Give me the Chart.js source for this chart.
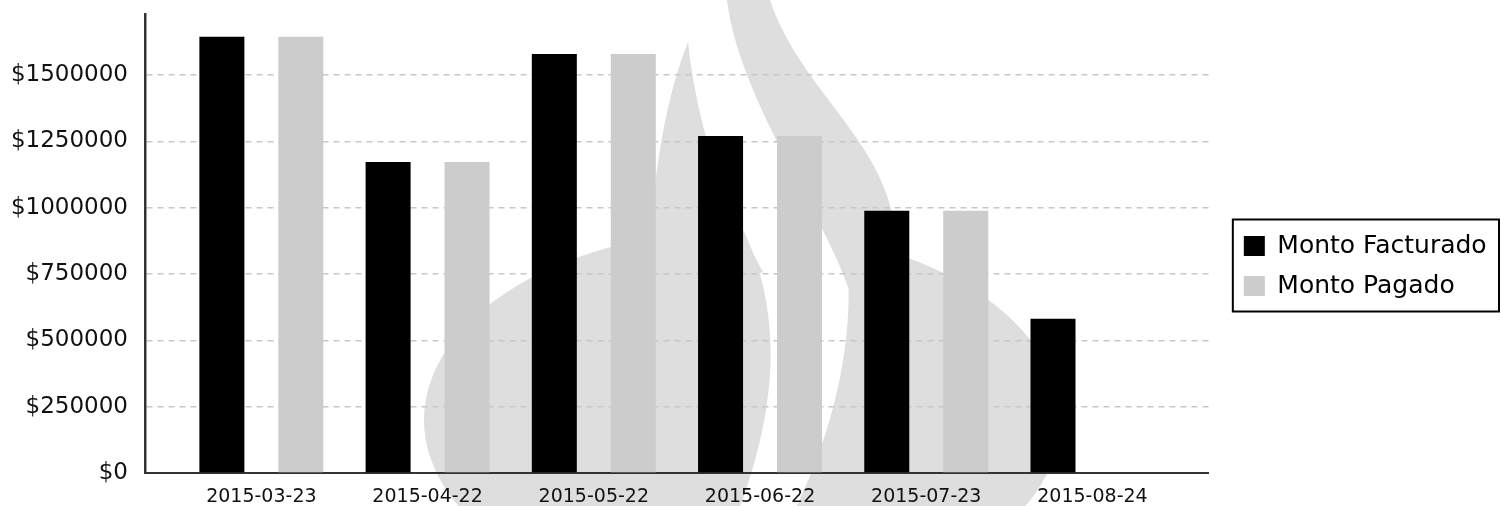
<!DOCTYPE html>
<html>
<head>
<meta charset="utf-8">
<script src="https://cdn.jsdelivr.net/npm/chart.js@4.4.0/dist/chart.umd.min.js"></script>
<style>
  html, body { margin: 0; padding: 0; background: #fff; }
  #wrap { width: 1501px; height: 506px; }
</style>
</head>
<body>
<div id="wrap"><canvas id="chart" width="1501" height="506"></canvas></div>
<script>
// Data
const fechas = ['2015-03-23', '2015-04-22', '2015-05-22', '2015-06-22', '2015-07-23', '2015-08-24'];
const montoFacturado = [1644000, 1172000, 1579000, 1270000, 988000, 581000];
const montoPagado = [1644000, 1172000, 1579000, 1270000, 988000, 0];
const yTicks = [0, 250000, 500000, 750000, 1000000, 1250000, 1500000];
const yMax = 1730000;

const FONT = 'DejaVu Sans';

function toPoints(values) {
    return values.map((v, i) => ({ x: i, y: v }));
}

// Light flame watermark behind the plot (drawn relative to the chart area)
const watermark = {
    id: 'watermark',
    beforeDraw(chart) {
        const ctx = chart.ctx;
        const a = chart.chartArea;
        ctx.save();
        ctx.translate(a.left, a.top);
        ctx.fillStyle = '#dedede';

        // round base
        ctx.beginPath();
        ctx.ellipse(597, 406, 318, 190, 0, 0, Math.PI * 2);
        ctx.fill();

        // white s-shaped gap through the base
        ctx.fillStyle = '#ffffff';
        ctx.beginPath();
        ctx.moveTo(588, 196);
        ctx.bezierCurveTo(630, 270, 645, 366, 590, 506);
        ctx.lineTo(645, 506);
        ctx.bezierCurveTo(705, 386, 712, 286, 697, 196);
        ctx.closePath();
        ctx.fill();

        ctx.fillStyle = '#dedede';
        // right tongue
        ctx.beginPath();
        ctx.moveTo(582, -14);
        ctx.lineTo(625, -14);
        ctx.bezierCurveTo(655, 76, 740, 126, 750, 216);
        ctx.lineTo(790, 306);
        ctx.lineTo(712, 306);
        ctx.bezierCurveTo(700, 226, 595, 96, 582, -14);
        ctx.closePath();
        ctx.fill();

        // left tongue
        ctx.beginPath();
        ctx.moveTo(543, 28);
        ctx.bezierCurveTo(555, 136, 588, 200, 618, 258);
        ctx.lineTo(495, 306);
        ctx.lineTo(505, 226);
        ctx.bezierCurveTo(510, 156, 520, 86, 543, 28);
        ctx.closePath();
        ctx.fill();
        ctx.restore();
    }
};

// Wider legend with a black frame round it
const legendBox = {
    id: 'legendBox',
    beforeLayout(chart) {
        const lg = chart.legend;
        if (lg && !lg._widened) {
            const fit = lg.fit;
            lg.fit = function () {
                fit.call(this);
                this.width += 22;
            };
            lg._widened = true;
        }
    },
    afterLayout(chart) {
        chart.legend.top += 6;
        chart.legend.bottom += 6;
    },
    afterDraw(chart) {
        const boxes = chart.legend.legendHitBoxes;
        if (!boxes || !boxes.length) return;
        const left = Math.min(...boxes.map(b => b.left)) - 11;
        const top = Math.min(...boxes.map(b => b.top)) - 14;
        const bottom = Math.max(...boxes.map(b => b.top + b.height)) + 13;
        const right = chart.width - 2;
        const ctx = chart.ctx;
        ctx.save();
        ctx.strokeStyle = '#000';
        ctx.lineWidth = 2;
        ctx.strokeRect(left, top, right - left, bottom - top);
        ctx.restore();
    }
};

const ctx = document.getElementById('chart').getContext('2d');

new Chart(ctx, {
    type: 'bar',
    data: {
        datasets: [{
            label: 'Monto Facturado',
            data: toPoints(montoFacturado),
            backgroundColor: '#000000',
            borderWidth: 0
        }, {
            label: 'Monto Pagado',
            data: toPoints(montoPagado),
            backgroundColor: '#cccccc',
            borderWidth: 0
        }]
    },
    options: {
        responsive: false,
        animation: false,
        devicePixelRatio: 1,
        categoryPercentage: 0.95,
        barPercentage: 0.57,
        layout: {
            padding: { top: 14, left: 0, right: 0, bottom: 0 }
        },
        plugins: {
            tooltip: { enabled: false },
            legend: {
                position: 'right',
                labels: {
                    color: '#000',
                    font: { family: FONT, size: 25 },
                    boxWidth: 21,
                    boxHeight: 20,
                    padding: 15
                }
            }
        },
        scales: {
            x: {
                type: 'linear',
                offset: false,
                min: -0.7,
                max: 5.7,
                afterBuildTicks: axis => {
                    axis.ticks = fechas.map((_, i) => ({ value: i }));
                },
                afterFit: axis => {
                    axis.height = 33;
                    axis.paddingLeft = 0;
                    axis.paddingRight = 0;
                },
                grid: { display: false },
                border: { display: true, color: '#333', width: 2 },
                ticks: {
                    color: '#111',
                    font: { family: FONT, size: 19 },
                    padding: 5,
                    maxRotation: 0,
                    autoSkip: false,
                    callback: v => fechas[v] ?? ''
                }
            },
            y: {
                min: 0,
                max: yMax,
                afterBuildTicks: axis => {
                    axis.ticks = yTicks.map(v => ({ value: v }));
                },
                afterFit: axis => {
                    axis.width = 145;
                    axis.paddingTop = 0;
                    axis.paddingBottom = 0;
                },
                grid: { color: '#c8c8c8', lineWidth: 1.5, drawTicks: false },
                border: { display: true, color: '#333', width: 2.5, dash: [6, 5] },
                ticks: {
                    color: '#111',
                    font: { family: FONT, size: 23 },
                    padding: 17,
                    callback: v => '$' + v
                }
            },
            spacer: {
                type: 'linear',
                position: 'right',
                display: true,
                grid: { display: false },
                border: { display: false },
                ticks: { display: false },
                afterFit: axis => {
                    axis.width = 20;
                    axis.paddingTop = 0;
                    axis.paddingBottom = 0;
                }
            }
        }
    },
    plugins: [watermark, legendBox]
});
</script>
</body>
</html>
